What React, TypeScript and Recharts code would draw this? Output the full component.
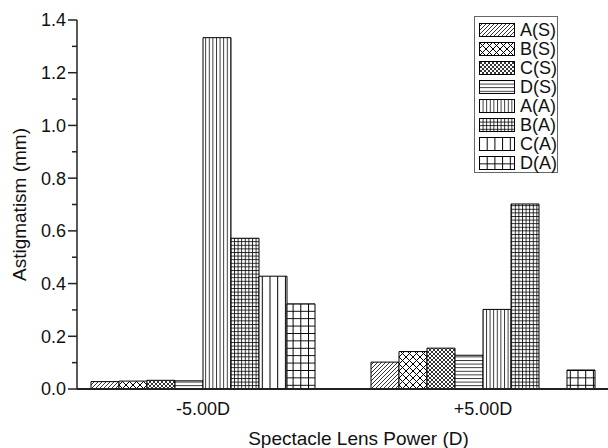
import { BarChart, Bar, XAxis, YAxis, Legend } from "recharts";

// lens powers on the x axis
const categories = ["-5.00D", "+5.00D"];

// astigmatism (mm) per series, one value per lens power
const seriesNames = ["A(S)", "B(S)", "C(S)", "D(S)", "A(A)", "B(A)", "C(A)", "D(A)"];
const aS = [0.028, 0.102];
const bS = [0.03, 0.142];
const cS = [0.033, 0.155];
const dS = [0.031, 0.128];
const aA = [1.333, 0.302];
const bA = [0.572, 0.702];
const cA = [0.428, 0];
const dA = [0.323, 0.072];

const yTicks = [0, 0.1, 0.2, 0.3, 0.4, 0.5, 0.6, 0.7, 0.8, 0.9, 1.0, 1.1, 1.2, 1.3, 1.4];

const seriesValues = [aS, bS, cS, dS, aA, bA, cA, dA];

const data = categories.map((power, i) => {
  const row: Record<string, string | number> = { power };
  seriesNames.forEach((name, s) => {
    row[name] = seriesValues[s][i];
  });
  return row;
});

const FONT = '"Liberation Sans", Arial, Helvetica, sans-serif';
const INK = "#111";

const patId = (i: number) => `hatch-${i}`;

// black-and-white hatch fills, one per series
const HatchDefs = () => (
  <defs>
    <pattern id={patId(0)} patternUnits="userSpaceOnUse" width={4} height={4}>
      <rect width={4} height={4} fill="#fff" />
      <path d="M-1,1 L1,-1 M0,4 L4,0 M3,5 L5,3" stroke="#000" strokeWidth={0.8} />
    </pattern>
    <pattern id={patId(1)} patternUnits="userSpaceOnUse" width={7} height={7}>
      <rect width={7} height={7} fill="#fff" />
      <path d="M0,0 L7,7 M7,0 L0,7" stroke="#000" strokeWidth={1} />
    </pattern>
    <pattern id={patId(2)} patternUnits="userSpaceOnUse" width={4} height={4}>
      <rect width={4} height={4} fill="#fff" />
      <path d="M0,0 L4,4 M4,0 L0,4" stroke="#000" strokeWidth={0.8} />
    </pattern>
    <pattern id={patId(3)} patternUnits="userSpaceOnUse" width={10} height={3.6}>
      <rect width={10} height={3.6} fill="#fff" />
      <path d="M0,0.5 H10" stroke="#000" strokeWidth={0.8} />
    </pattern>
    <pattern id={patId(4)} patternUnits="userSpaceOnUse" width={3.6} height={10}>
      <rect width={3.6} height={10} fill="#fff" />
      <path d="M0.5,0 V10" stroke="#000" strokeWidth={0.8} />
    </pattern>
    <pattern id={patId(5)} patternUnits="userSpaceOnUse" width={3.6} height={3.6}>
      <rect width={3.6} height={3.6} fill="#fff" />
      <path d="M0.5,0 V3.6 M0,0.5 H3.6" stroke="#000" strokeWidth={0.8} />
    </pattern>
    <pattern id={patId(6)} patternUnits="userSpaceOnUse" width={7.7} height={10}>
      <rect width={7.7} height={10} fill="#fff" />
      <path d="M0.5,0 V10" stroke="#000" strokeWidth={1} />
    </pattern>
    <pattern id={patId(7)} patternUnits="userSpaceOnUse" width={7.7} height={7.4}>
      <rect width={7.7} height={7.4} fill="#fff" />
      <path d="M0.5,0 V7.4 M0,0.5 H7.7" stroke="#000" strokeWidth={1} />
    </pattern>
  </defs>
);

const YTick = ({ x, y, payload }: any) => {
  const major = Math.round(payload.value * 10) % 2 === 0;
  return (
    <g>
      <line x1={x - (major ? 9 : 5)} x2={x} y1={y} y2={y} stroke="#222" strokeWidth={1.5} />
      {major && (
        <text x={x - 11} y={y} dy="0.36em" textAnchor="end" fontSize={18} fill={INK} fontFamily={FONT}>
          {payload.value.toFixed(1)}
        </text>
      )}
    </g>
  );
};

// legend keeps the series order of the bars
const LegendBox = () => (
  <div
    style={{
      border: "1px solid #666",
      background: "#fff",
      padding: "3px 0 0 4px",
      boxSizing: "border-box",
      width: 84,
      height: 157,
      fontFamily: FONT,
    }}
  >
    {seriesNames.map((name, idx) => (
      <div key={name} style={{ display: "flex", alignItems: "center", height: 19.1 }}>
        <svg width={36} height={14} style={{ display: "block" }}>
          <rect x={0.5} y={0.5} width={35} height={13} fill={`url(#${patId(idx)})`} stroke="#000" />
        </svg>
        <span style={{ marginLeft: 5, fontSize: 18, color: INK, lineHeight: "18px" }}>{name}</span>
      </div>
    ))}
  </div>
);

export default function App() {
  return (
    <div
      style={{
        position: "fixed",
        left: 0,
        top: 0,
        width: 608,
        height: 448,
        overflow: "hidden",
        background: "#fff",
      }}
    >
      <BarChart
        width={640}
        height={448}
        data={data}
        margin={{ top: 20, right: 0, bottom: 0, left: 0 }}
        barGap={0}
        barSize={28}
        style={{ fontFamily: FONT }}
      >
        <HatchDefs />
        <XAxis
          dataKey="power"
          padding={{ left: -14, right: 17 }}
          tickLine={false}
          tickSize={0}
          tickMargin={13}
          height={59}
          axisLine={{ stroke: "#222", strokeWidth: 2 }}
          tick={{ fontSize: 18, fill: INK, fontFamily: FONT }}
          label={{
            value: "Spectacle Lens Power (D)",
            position: "insideBottom",
            offset: 3,
            fontSize: 19,
            fill: INK,
            fontFamily: FONT,
          }}
        />
        <YAxis
          width={77}
          domain={[0, 1.4]}
          ticks={yTicks}
          interval={0}
          tickLine={false}
          tickSize={0}
          tickMargin={0}
          axisLine={{ stroke: "#222", strokeWidth: 1.5 }}
          tick={<YTick />}
          label={{
            value: "Astigmatism (mm)",
            angle: -90,
            position: "insideLeft",
            offset: 19,
            fontSize: 19,
            fill: INK,
            fontFamily: FONT,
            style: { textAnchor: "middle" },
          }}
        />
        <Legend
          layout="vertical"
          align="center"
          verticalAlign="middle"
          content={<LegendBox />}
          wrapperStyle={{ left: 474, top: 16, width: 84, height: 157 }}
        />
        {seriesNames.map((name, i) => (
          <Bar
            key={name}
            dataKey={name}
            name={name}
            fill={`url(#${patId(i)})`}
            stroke="#000"
            strokeWidth={1}
            isAnimationActive={false}
          />
        ))}
      </BarChart>
    </div>
  );
}
